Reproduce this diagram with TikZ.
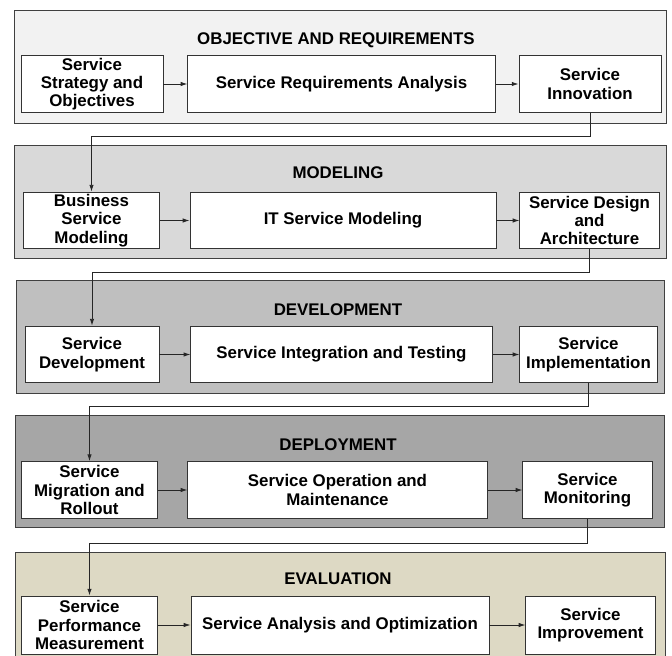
\documentclass[tikz,border=0pt]{standalone}
\usepackage{fontspec}
\setmainfont{Liberation Sans}
\usetikzlibrary{arrows.meta,positioning}

\definecolor{evalbg}{HTML}{DDD9C4}

\begin{document}
\begin{tikzpicture}[x=0.025cm,y=-0.025cm,
    panel/.style={draw=black!75,line width=0.6pt},
    title/.style={font=\fontsize{12}{13}\selectfont\bfseries,anchor=center},
    stage/.style={draw=black!80,fill=white,line width=0.6pt,inner sep=0pt,align=center,
      font=\fontsize{12}{13}\selectfont\bfseries,minimum height=1.42cm},
    flow/.style={-{Latex[length=1.7mm,width=1.1mm]},black!85,line width=0.6pt}]
    \useasboundingbox[fill=white] (0,0) rectangle (672,656);

    % Objective and requirements
    \draw[panel,fill=black!5] (14,10) rectangle (666,123);
    \node[title] at (336,40) {OBJECTIVE AND REQUIREMENTS};
    \node[stage,minimum width=3.55cm] (strat) at (92,84) {Service\\Strategy and\\Objectives};
    \node[stage,minimum width=7.68cm] (reqan) at (341.5,84) {Service Requirements Analysis};
    \node[stage,minimum width=3.55cm] (innov) at (590,84) {Service\\Innovation};

    % Modeling
    \draw[panel,fill=black!15] (14,145) rectangle (666,258);
    \node[title] at (338,173) {MODELING};
    \node[stage,minimum width=3.38cm] (busmod) at (91.5,220.5) {Business\\Service\\Modeling};
    \node[stage,minimum width=7.65cm] (itmod) at (343,220.5) {IT Service Modeling};
    \node[stage,minimum width=3.48cm] (design) at (589.5,220.5) {Service Design\\and\\Architecture};

    % Development
    \draw[panel,fill=black!25] (16,280) rectangle (664,393);
    \node[title] at (338,310) {DEVELOPMENT};
    \node[stage,minimum width=3.35cm] (devel) at (92,354.5) {Service\\Development};
    \node[stage,minimum width=7.53cm] (integ) at (341.5,354.5) {Service Integration and Testing};
    \node[stage,minimum width=3.43cm] (implem) at (588.5,354.5) {Service\\Implementation};

    % Deployment
    \draw[panel,fill=black!35] (15,415) rectangle (664,527);
    \node[title] at (338,445) {DEPLOYMENT};
    \node[stage,minimum width=3.38cm] (migr) at (89.5,490) {Service\\Migration and\\Rollout};
    \node[stage,minimum width=7.48cm] (operm) at (337.5,490) {Service Operation and\\Maintenance};
    \node[stage,minimum width=3.23cm] (monit) at (587.5,490) {Service\\Monitoring};

    % Evaluation
    \draw[panel,fill=evalbg] (15,552) rectangle (665,700);
    \node[title] at (338,579) {EVALUATION};
    \node[stage,minimum width=3.38cm,minimum height=1.45cm] (perf) at (89.5,625) {Service\\Performance\\Measurement};
    \node[stage,minimum width=7.45cm,minimum height=1.45cm] (optim) at (340,625) {Service Analysis and Optimization};
    \node[stage,minimum width=3.23cm,minimum height=1.45cm] (improv) at (590.5,625) {Service\\Improvement};

    % arrows inside the panels
    \draw[flow] (strat) -- (reqan);
    \draw[flow] (reqan) -- (innov);
    \draw[flow] (busmod) -- (itmod);
    \draw[flow] (itmod) -- (design);
    \draw[flow] (devel) -- (integ);
    \draw[flow] (integ) -- (implem);
    \draw[flow] (migr) -- (operm);
    \draw[flow] (operm) -- (monit);
    \draw[flow] (perf) -- (optim);
    \draw[flow] (optim) -- (improv);

    % links between the panels
    \draw[flow] (innov.south) -- (innov.south |- {(0,136)}) -- (busmod.north |- {(0,136)}) -- (busmod.north);
    \draw[flow] (design.south) -- (design.south |- {(0,272)}) -- (devel.north |- {(0,272)}) -- (devel.north);
    \draw[flow] (implem.south) -- (implem.south |- {(0,406)}) -- (migr.north |- {(0,406)}) -- (migr.north);
    \draw[flow] (monit.south) -- (monit.south |- {(0,543)}) -- (perf.north |- {(0,543)}) -- (perf.north);
  \end{tikzpicture}
\end{document}
